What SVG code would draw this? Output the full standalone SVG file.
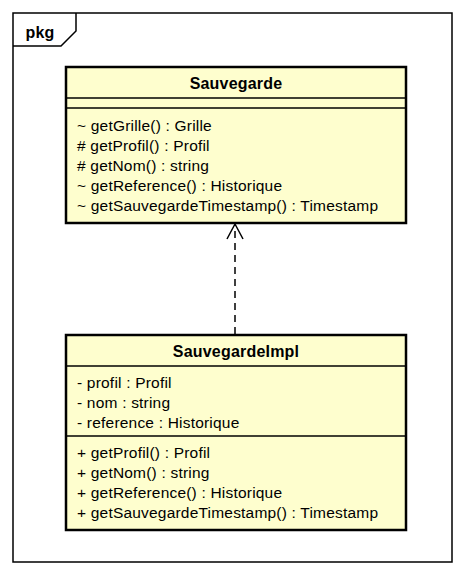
<svg xmlns="http://www.w3.org/2000/svg" width="465" height="576" viewBox="0 0 465 576">
<style>
.cls{fill:#FEFECE;stroke:#000;stroke-width:2.5}
.sep{stroke:#000;stroke-width:1.5}
.t{font-family:"Liberation Sans",Arial,sans-serif;font-size:15.5px;fill:#000;letter-spacing:0.2px}
.b{font-weight:bold;text-anchor:middle;font-size:16px}
</style>
<rect width="465" height="576" fill="#fff"/>
<g id="pkg">
<path d="M13 13 H452 V562 H13 Z" fill="none" stroke="#000" stroke-width="1.5"/>
<path d="M13 46 H61 L76 31 V13" fill="none" stroke="#000" stroke-width="1.5"/>
<text class="t b" x="40" y="38">pkg</text>
</g>
<g id="connectors">
<line x1="235" y1="334" x2="235" y2="225" stroke="#000" stroke-width="1.5" stroke-dasharray="7,5"/>
<path d="M227 239 L235 224 L243 239" fill="none" stroke="#000" stroke-width="1.5"/>
</g>
<g id="Sauvegarde">
<rect class="cls" x="66" y="67" width="340" height="156"/>
<line class="sep" x1="66" y1="98" x2="406" y2="98"/>
<line class="sep" x1="66" y1="108" x2="406" y2="108"/>
<text class="t b" x="236" y="89">Sauvegarde</text>
<text class="t" x="77" y="131">~ getGrille() : Grille</text>
<text class="t" x="77" y="151"># getProfil() : Profil</text>
<text class="t" x="77" y="171"># getNom() : string</text>
<text class="t" x="77" y="191">~ getReference() : Historique</text>
<text class="t" x="77" y="211">~ getSauvegardeTimestamp() : Timestamp</text>
</g>
<g id="SauvegardeImpl">
<rect class="cls" x="66" y="335" width="340" height="195"/>
<line class="sep" x1="66" y1="366" x2="406" y2="366"/>
<line class="sep" x1="66" y1="436" x2="406" y2="436"/>
<text class="t b" x="236" y="357">SauvegardeImpl</text>
<text class="t" x="77" y="388">- profil : Profil</text>
<text class="t" x="77" y="408">- nom : string</text>
<text class="t" x="77" y="428">- reference : Historique</text>
<text class="t" x="77" y="458">+ getProfil() : Profil</text>
<text class="t" x="77" y="478">+ getNom() : string</text>
<text class="t" x="77" y="498">+ getReference() : Historique</text>
<text class="t" x="77" y="518">+ getSauvegardeTimestamp() : Timestamp</text>
</g>
</svg>
